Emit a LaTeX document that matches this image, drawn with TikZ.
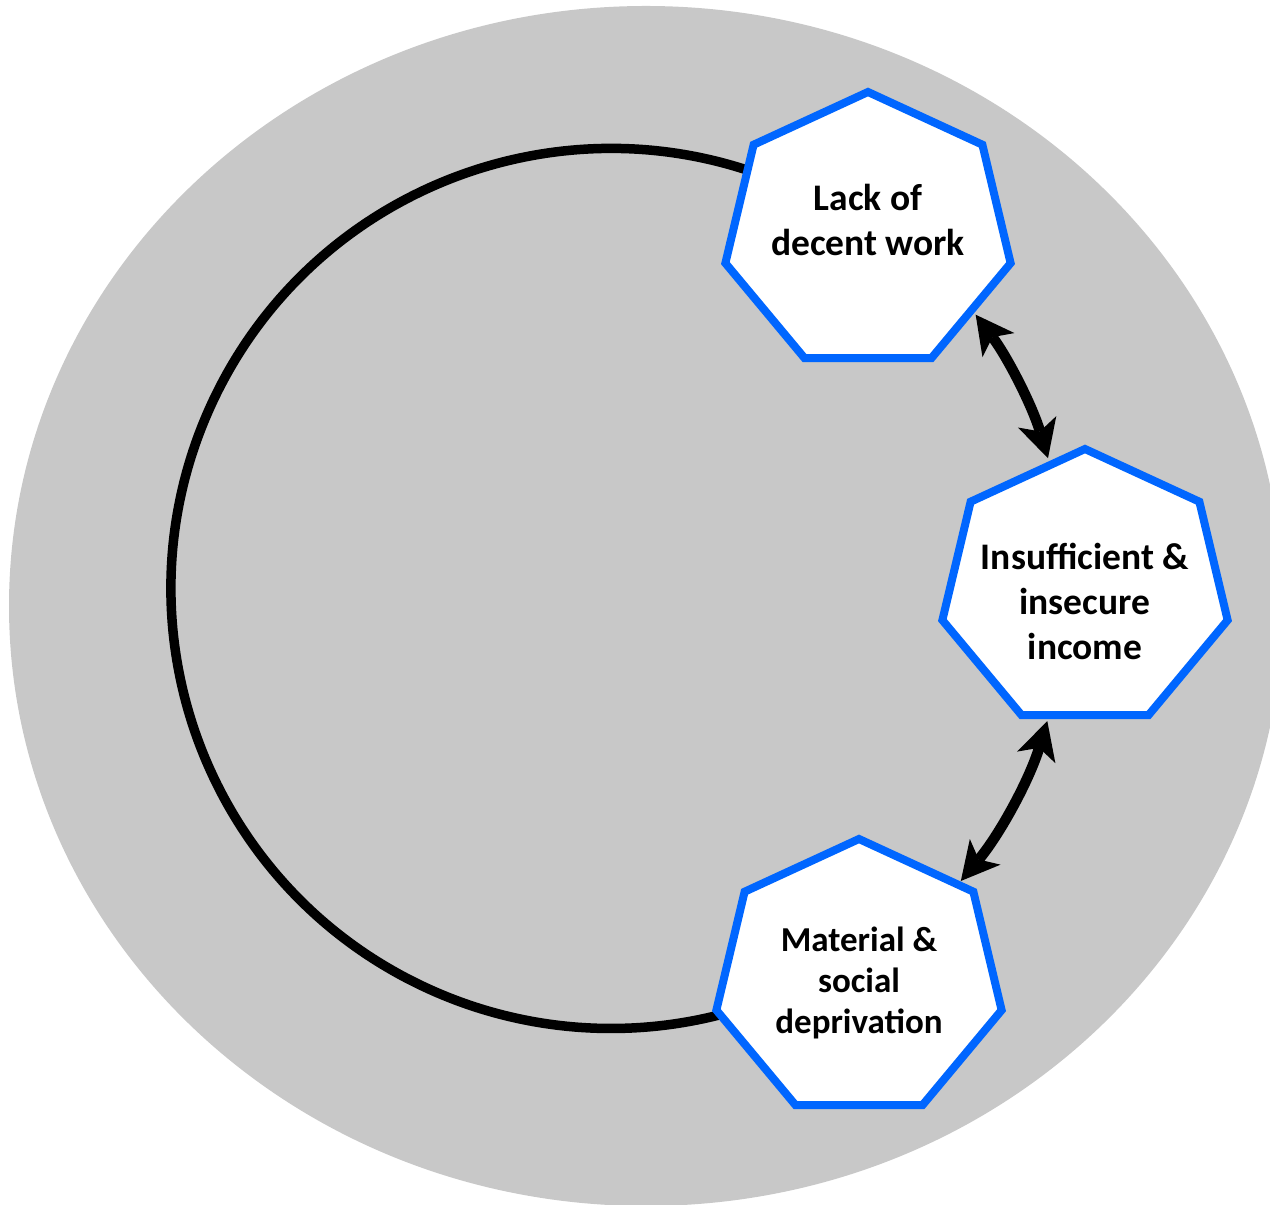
\documentclass[tikz,border=0pt]{standalone}
\usepackage{fontspec}
\setmainfont{Carlito}
\usetikzlibrary{arrows.meta}
\definecolor{ringgray}{RGB}{200,200,200}
\definecolor{hepblue}{RGB}{0,102,255}
% heptagon outline centred at #1 (circumradius 140, slightly widened)
\newcommand\heptagonat[1]{%
  \draw[hept,shift={(#1)},xscale=1.045] (90:140)
    \foreach \k in {1,...,6}{ -- ({90+\k*360/7}:140)} -- cycle;}
\begin{document}
\begin{tikzpicture}[x=1pt,y=1pt,
  hept/.style={draw=hepblue, fill=white, line width=8pt, line join=miter},
  lbl/.style={font=\bfseries\fontsize{37.5}{45}\selectfont, align=center, text=black, inner sep=0pt},
  loopline/.style={draw=black, line width=9.5pt},
  link/.style={draw=black, line width=10.5pt, {Stealth[length=38pt,width=40pt,inset=10pt,line width=0pt]}-{Stealth[length=38pt,width=40pt,inset=10pt,line width=0pt]}}
]
\useasboundingbox (0,0) rectangle (1270,1205);
\begin{scope}
  \clip (0,0) rectangle (1270,1205);
  \fill[ringgray] (646,599) ellipse [x radius=637, y radius=600];
\end{scope}

% the cycle: open on the right, its ends tucked under the outer stages
\coordinate (hub) at (611,616.5);
\draw[loopline] ([shift={(66:440)}]hub) arc[start angle=66, end angle=288, radius=440];

% stages
\heptagonat{868,973}
\heptagonat{1085,616}
\heptagonat{859,226}
\node[lbl] (work)   at (868,985) {Lack of\\decent work};
\node[lbl] (income) at (1085,604) {Insufficient \&\\insecure\\income};
\node[lbl, font=\bfseries\fontsize{35}{41}\selectfont] (depriv) at (859,222) {Material \&\\social\\deprivation};

% two-way links between neighbouring stages
\draw[link] ([shift={(36.9:456)}]hub) arc[start angle=36.9, end angle=16.6, radius=456];
\draw[link] ([shift={(-16.9:456)}]hub) arc[start angle=-16.9, end angle=-39.9, radius=456];
\end{tikzpicture}
\end{document}
